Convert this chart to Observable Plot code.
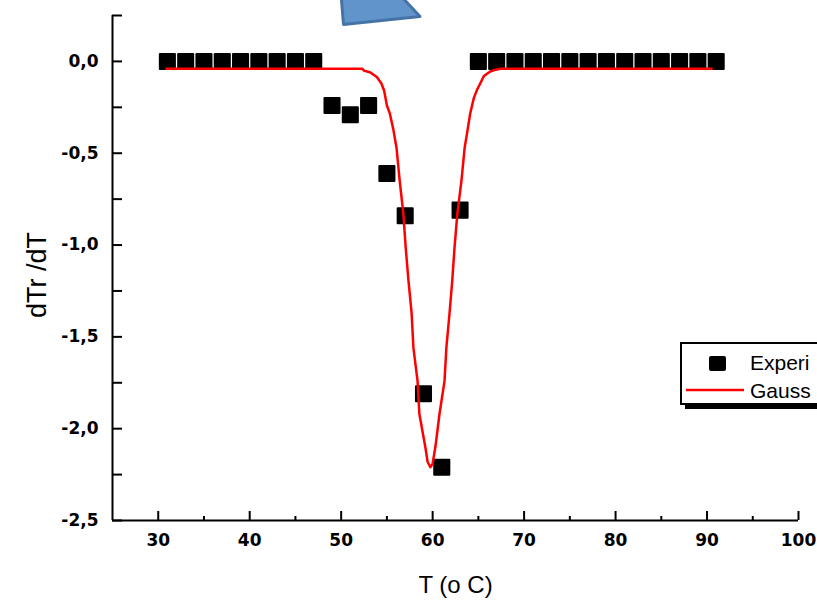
<!DOCTYPE html>
<html>
<head>
<meta charset="utf-8">
<script src="https://cdn.jsdelivr.net/npm/d3@7"></script>
<script src="https://cdn.jsdelivr.net/npm/@observablehq/plot@0.6"></script>
<style>
  html, body { margin: 0; padding: 0; background: #fff; overflow: hidden; }
  #wrap { position: relative; width: 817px; height: 603px; overflow: hidden; }
  #deco { position: absolute; left: 0; top: 0; pointer-events: none; }
  #legend { position: absolute; left: 680px; top: 342px; width: 200px; height: 59px;
            border: 2px solid #000; background: #fff; box-shadow: 5px 4px 0 #000; }
  #legend svg { position: absolute; left: 0; top: 0; }
</style>
</head>
<body>
<div id="wrap"></div>
<script>
// Experimental points: temperature (°C) and dTr/dT
const expT = [31, 33, 35, 37, 39, 41, 43, 45, 47, 49, 51, 53, 55, 57, 59, 61, 63,
              65, 67, 69, 71, 73, 75, 77, 79, 81, 83, 85, 87, 89, 91];
const expY = [0, 0, 0, 0, 0, 0, 0, 0, 0, -0.24, -0.29, -0.24, -0.61, -0.84, -1.81, -2.21, -0.81,
              0, 0, 0, 0, 0, 0, 0, 0, 0, 0, 0, 0, 0, 0];

// Gauss fit curve
const fitT = [30.9, 52.3, 52.5, 53.2, 53.9, 54.4, 54.7, 55.0, 55.3, 55.7, 56.05, 56.4, 56.8, 57.05,
              57.35, 57.7, 57.9, 58.35, 58.55, 59.2, 59.45, 59.75, 60.0, 60.3, 60.75, 61.3, 61.5,
              61.85, 62.15, 62.4, 62.7, 63.15, 63.5, 63.8, 64.1, 64.5, 64.85, 65.2, 65.6, 66.3,
              66.9, 67.4, 90.5];
const fitY = [-0.04, -0.04, -0.05, -0.06, -0.085, -0.12, -0.16, -0.24, -0.28, -0.37, -0.47, -0.65,
              -0.83, -1.01, -1.19, -1.37, -1.56, -1.74, -1.92, -2.10, -2.18, -2.21, -2.19, -2.10,
              -1.92, -1.74, -1.56, -1.37, -1.19, -1.01, -0.83, -0.65, -0.47, -0.38, -0.285, -0.2,
              -0.155, -0.12, -0.08, -0.055, -0.045, -0.04, -0.04];

// Ticks
const xMajor = [30, 40, 50, 60, 70, 80, 90, 100];
const xMinor = [35, 45, 55, 65, 75, 85, 95];
const yTicks = [0.25, 0, -0.25, -0.5, -0.75, -1, -1.25, -1.5, -1.75, -2, -2.25, -2.5];
const yLabels = [0, -0.5, -1, -1.5, -2, -2.5];

const xTitle = "T (o C)";
const yTitle = "dTr /dT";
// legend texts as visible in the (cropped) reference
const legendLabels = ["Experi", "Gauss"];

const expData = expT.map((t, i) => ({t, v: expY[i]}));
const fitData = fitT.map((t, i) => ({t, v: fitY[i]}));
const fmt = d => d3.format(".1f")(d).replace("\u2212", "-").replace(".", ",");
const tickFont = "'DejaVu Sans', sans-serif";

const plot = Plot.plot({
  width: 817,
  height: 603,
  marginLeft: 112,
  marginRight: 19,
  marginTop: 15,
  marginBottom: 83,
  x: {domain: [25, 100]},
  y: {domain: [-2.5, 0.25]},
  style: {fontFamily: tickFont, fontSize: "17px", color: "#000", background: "#fff"},
  marks: [
    // axis labels
    Plot.axisX(xMajor, {tickSize: 0, tickPadding: 13, label: null, fill: "#000",
                        fontSize: 17, fontWeight: "bold", fontFamily: tickFont}),
    Plot.axisY(yLabels, {tickSize: 0, tickPadding: 14, tickFormat: fmt, label: null, fill: "#000",
                         fontSize: 17, fontWeight: "bold", fontFamily: tickFont}),
    // inward ticks
    Plot.axisX(xMajor, {tickSize: 9, dy: -9, tickFormat: () => "", label: null, strokeWidth: 2, stroke: "#000"}),
    Plot.axisX(xMinor, {tickSize: 4, dy: -4, tickFormat: () => "", label: null, strokeWidth: 2, stroke: "#000"}),
    Plot.axisY(yTicks, {tickSize: 10, dx: 10, tickFormat: () => "", label: null, strokeWidth: 2, stroke: "#000"}),
    // axis lines
    Plot.ruleX([25], {stroke: "#000", strokeWidth: 2}),
    Plot.ruleY([-2.5], {stroke: "#000", strokeWidth: 2}),
    // data
    Plot.dot(expData, {x: "t", y: "v", symbol: "square", r: 8.5, fill: "#000", stroke: "#000",
                       strokeWidth: 2, strokeLinejoin: "round"}),
    Plot.line(fitData, {x: "t", y: "v", stroke: "#ff0000", strokeWidth: 2.5}),
    // titles
    Plot.text([xTitle], {text: d => d, frameAnchor: "bottom", dy: 65, lineAnchor: "middle",
                         fontFamily: "'Liberation Sans', Arial, sans-serif", fontSize: 24, fontWeight: "normal", fill: "#000"}),
    Plot.text([yTitle], {text: d => d, frameAnchor: "left", dx: -75, dy: 50, rotate: -90,
                         fontFamily: "'Liberation Sans', Arial, sans-serif", fontSize: 27, fontWeight: "normal", fill: "#000"})
  ]
});

const wrap = document.getElementById("wrap");
wrap.appendChild(plot);

// decorative blue shape at the top (part of the reference picture)
const ns = "http://www.w3.org/2000/svg";
const deco = document.createElementNS(ns, "svg");
deco.setAttribute("id", "deco");
deco.setAttribute("width", "817");
deco.setAttribute("height", "40");
deco.innerHTML = '<polygon points="341,-6 343.5,24.5 420,16.5 399,-6" fill="#6194CB" stroke="#4673A6" stroke-width="3" stroke-linejoin="round"/>';
wrap.appendChild(deco);

// legend
const legend = document.createElement("div");
legend.id = "legend";
legend.innerHTML =
  '<svg width="200" height="59">' +
  '<rect x="27" y="12" width="17" height="15" rx="2" fill="#000"/>' +
  '<text x="68" y="26" font-family="Liberation Sans, Arial, sans-serif" font-size="21" fill="#000">' + legendLabels[0] + '</text>' +
  '<line x1="4" x2="62" y1="46" y2="46" stroke="#ff0000" stroke-width="2.5"/>' +
  '<text x="68" y="54" font-family="Liberation Sans, Arial, sans-serif" font-size="21" fill="#000">' + legendLabels[1] + '</text>' +
  '</svg>';
wrap.appendChild(legend);
</script>
</body>
</html>
